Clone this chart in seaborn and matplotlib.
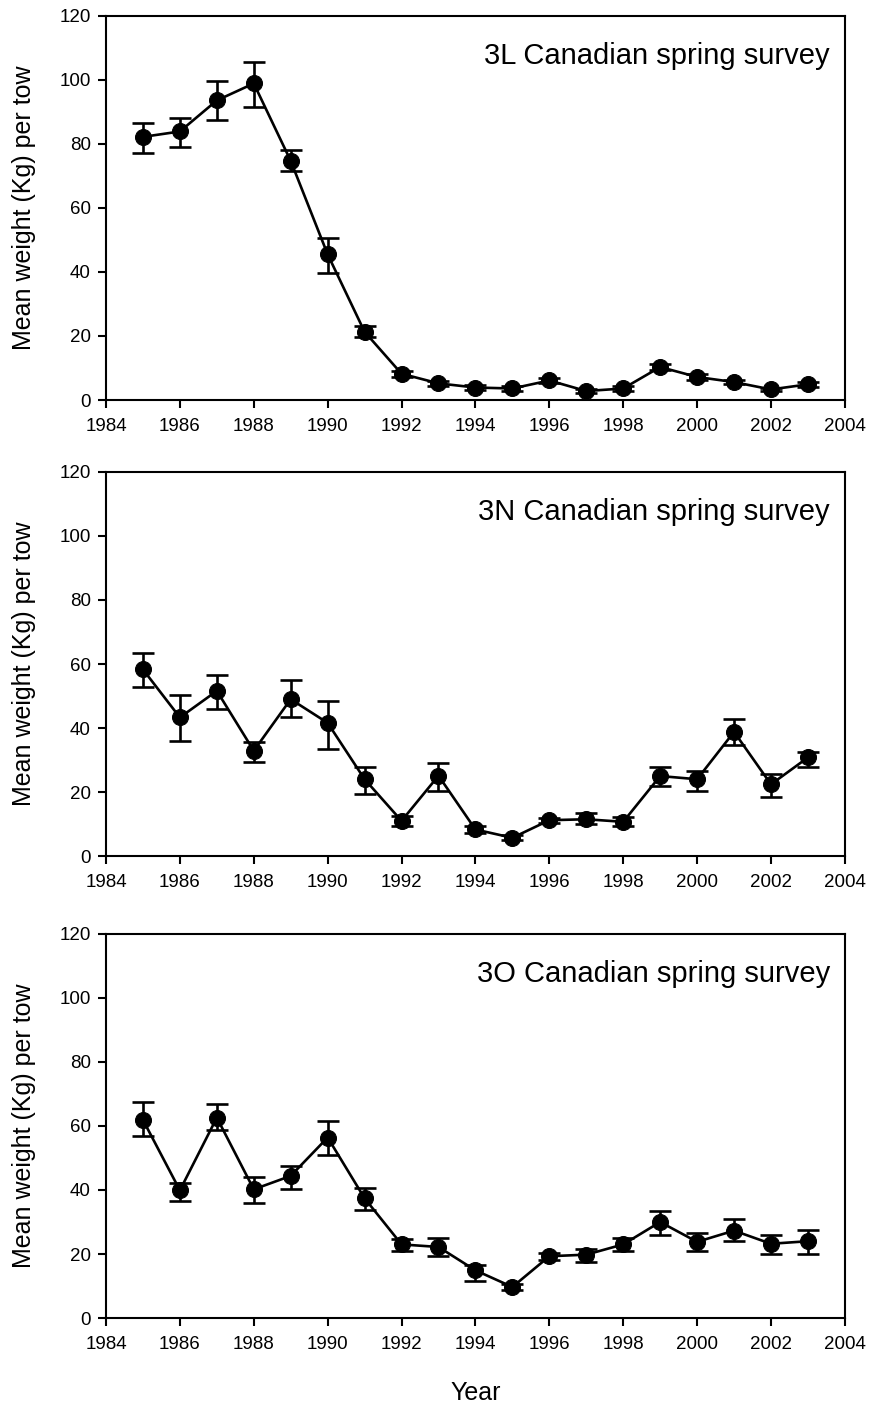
import numpy as np
import pandas as pd
import matplotlib
matplotlib.use("Agg")
import matplotlib.pyplot as plt
import seaborn as sns

# Survey years
years = list(range(1985, 2004))

# 3L Canadian spring survey: mean weight per tow and error bar limits
l3_mean = [82.2, 83.9, 93.6, 98.9, 74.7, 45.5, 21.3, 8.2, 5.2, 3.9, 3.6, 6.1, 2.8, 3.6, 10.3, 7.2, 5.6, 3.3, 4.9]
l3_low = [77.3, 79.1, 87.5, 91.6, 71.4, 39.8, 19.7, 7.2, 4.5, 3.2, 2.9, 5.3, 2.2, 2.9, 9.4, 6.4, 4.9, 2.7, 4.2]
l3_high = [86.5, 88.1, 99.7, 105.6, 78.2, 50.5, 23.1, 9.2, 5.9, 4.6, 4.3, 6.9, 3.4, 4.3, 11.2, 8.0, 6.3, 3.9, 5.6]

# 3N Canadian spring survey
n3_mean = [58.3, 43.3, 51.6, 32.9, 49.0, 41.6, 24.0, 11.0, 25.1, 8.3, 5.7, 11.2, 11.5, 10.7, 25.0, 24.0, 38.8, 22.4, 30.8]
n3_low = [52.7, 36.0, 46.1, 29.3, 43.5, 33.5, 19.3, 9.4, 20.3, 7.2, 4.9, 10.4, 10.0, 9.4, 21.9, 20.3, 34.7, 18.4, 27.9]
n3_high = [63.5, 50.2, 56.7, 35.7, 54.9, 48.5, 27.7, 12.5, 29.2, 9.4, 6.5, 12.0, 13.5, 12.1, 27.7, 26.6, 42.7, 25.7, 32.6]

# 3O Canadian spring survey
o3_mean = [61.9, 39.9, 62.6, 40.2, 44.4, 56.4, 37.4, 23.0, 22.2, 14.9, 9.7, 19.3, 19.8, 23.0, 30.0, 23.8, 27.3, 23.2, 24.0]
o3_low = [56.9, 36.7, 58.8, 35.8, 40.2, 50.9, 33.6, 20.9, 19.3, 11.7, 8.8, 18.0, 17.5, 20.9, 25.9, 20.9, 24.2, 20.0, 20.0]
o3_high = [67.5, 42.3, 66.8, 44.2, 47.5, 61.6, 40.7, 24.8, 25.1, 16.7, 10.6, 20.4, 21.6, 25.1, 33.4, 26.6, 30.8, 25.8, 27.5]

panel_titles = ["3L Canadian spring survey", "3N Canadian spring survey", "3O Canadian spring survey"]
x_ticks = list(range(1984, 2005, 2))
y_ticks = list(range(0, 121, 20))

sns.set_theme(style="ticks")
plt.rcParams["font.family"] = ["Liberation Sans", "DejaVu Sans"]
plt.rcParams["axes.linewidth"] = 1.5
plt.rcParams["text.color"] = "black"
plt.rcParams["axes.labelcolor"] = "black"

series = [(l3_mean, l3_low, l3_high), (n3_mean, n3_low, n3_high), (o3_mean, o3_low, o3_high)]

fig = plt.figure(figsize=(8.71, 14.08), dpi=100)
left, width = 0.1217, 0.8483
bottoms = [0.7159, 0.3920, 0.0639]
height = 0.2728

for i, ((mean, low, high), title) in enumerate(zip(series, panel_titles)):
    ax = fig.add_axes([left, bottoms[i], width, height])
    df = pd.DataFrame({"Year": years, "Mean": mean, "Low": low, "High": high})
    yerr = np.vstack([df["Mean"] - df["Low"], df["High"] - df["Mean"]])
    ax.errorbar(df["Year"], df["Mean"], yerr=yerr, fmt="none", ecolor="black",
                elinewidth=1.9, capsize=8, capthick=1.9, zorder=2)
    sns.lineplot(data=df, x="Year", y="Mean", ax=ax, color="black", linewidth=1.9,
                 marker="o", markersize=11.5, markeredgecolor="black",
                 markerfacecolor="black", zorder=3)
    ax.set_xlim(1984, 2004)
    ax.set_ylim(0, 120)
    ax.set_xticks(x_ticks)
    ax.set_yticks(y_ticks)
    ax.tick_params(axis="both", direction="out", length=6, width=1.5,
                   labelsize=13.5, colors="black")
    ax.tick_params(axis="x", pad=7)
    ax.tick_params(axis="y", pad=5)
    for side in ["top", "right", "left", "bottom"]:
        ax.spines[side].set_visible(True)
        ax.spines[side].set_color("black")
        ax.spines[side].set_linewidth(1.5)
    ax.set_ylabel("Mean weight (Kg) per tow", fontsize=18, labelpad=17, color="black")
    if i == 2:
        ax.set_xlabel("Year", fontsize=18, labelpad=20, color="black")
    else:
        ax.set_xlabel("")
    ax.text(0.98, 0.895, title, transform=ax.transAxes, ha="right", va="center",
            fontsize=21, color="black")

fig.savefig("out.png", dpi=100)
